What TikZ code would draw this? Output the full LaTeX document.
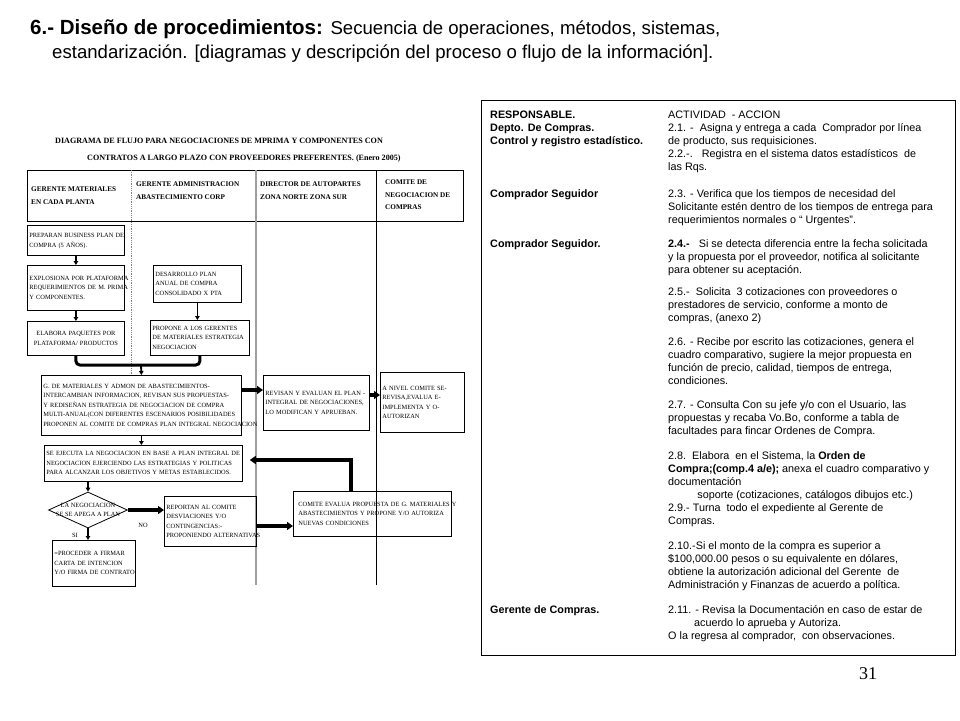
\documentclass[tikz,border=0pt]{standalone}
\usepackage{fontspec}
\setmainfont{Liberation Sans}
\newfontfamily\flowfont{Liberation Serif}
\usetikzlibrary{arrows.meta, shapes.geometric, positioning, calc}

% renglones sin corte dentro de las cajas
\newcommand{\renglones}[2][l]{\begin{tabular}{@{}#1@{}}#2\end{tabular}}

\begin{document}
\begin{tikzpicture}[x=1pt, y=-1pt,
  box/.style 2 args={rectangle, draw=black, line width=0.8pt, anchor=north west,
    inner xsep=2pt, inner ysep=1pt, text width=#1, minimum height=#2, align=left,
    font=\flowfont\fontsize{6.4}{9.5}\selectfont},
  head/.style={anchor=north west, inner sep=0pt, align=left,
    font=\flowfont\bfseries\fontsize{7.2}{12.5}\selectfont},
  lbl/.style={inner sep=0pt, font=\flowfont\fontsize{6.4}{9}\selectfont},
  arr/.style={-{Triangle[length=4pt, width=4.5pt]}, line width=1.8pt},
  bigarr/.style={-{Triangle[length=6pt, width=8pt]}, line width=3.2pt},
  txt/.style={anchor=north west, inner sep=0pt, align=left,
    font=\fontsize{10.8}{13}\selectfont},
  resp/.style={txt, font=\bfseries\fontsize{10.8}{13}\selectfont}
]
\useasboundingbox (0,0) rectangle (960,720);

% titulo
\node[anchor=base west, inner sep=0pt] (tit1) at (30,34)
  {\fontsize{20.5}{24}\selectfont\bfseries 6.- Diseño de procedimientos: \fontsize{18.6}{24}\mdseries Secuencia de operaciones, métodos, sistemas,};
\node[anchor=base west, inner sep=0pt, font=\fontsize{18.6}{24}\selectfont] (tit2) at (52,58)
  {estandarización. [diagramas y descripción del proceso o flujo de la información].};

% diagrama de flujo
\node[anchor=base west, inner sep=0pt, font=\flowfont\bfseries\fontsize{8.1}{10}\selectfont] (ftit1) at (55,143)
  {DIAGRAMA DE FLUJO PARA NEGOCIACIONES DE MPRIMA Y COMPONENTES CON};
\node[anchor=base west, inner sep=0pt, font=\flowfont\bfseries\fontsize{8.1}{10}\selectfont] (ftit2) at (87,160)
  {CONTRATOS A LARGO PLAZO CON PROVEEDORES PREFERENTES. (Enero 2005)};

\draw[line width=0.9pt] (27,170) rectangle (463,221);
\draw[gray, densely dotted, line width=0.8pt] (131,170) -- (131,375);
\draw[gray!75, line width=1.6pt] (256,170) -- (256,585);
\draw[line width=0.6pt] (376,170) -- (376,585);

\node[head] (col1) at (31,187) {GERENTE MATERIALES\\EN CADA PLANTA};
\node[head] (col2) at (136,182) {GERENTE ADMINISTRACION\\ABASTECIMIENTO CORP};
\node[head] (col3) at (260,182) {DIRECTOR DE AUTOPARTES\\ZONA NORTE ZONA SUR};
\node[head] (col4) at (385,180) {COMITE DE\\NEGOCIACION DE\\COMPRAS};

\node[box={93pt}{30pt}] (plan) at (27,225) {\renglones{PREPARAN BUSINESS PLAN DE\\COMPRA (5 AÑOS).}};
\node[box={93pt}{45pt}] (expl) at (27,265) {\renglones{EXPLOSIONA POR PLATAFORMA\\REQUERIMIENTOS DE M. PRIMA\\Y COMPONENTES.}};
\node[box={93pt}{34pt}, align=center] (paq) at (27,321) {\renglones[c]{ELABORA PAQUETES POR\\PLATAFORMA/ PRODUCTOS}};
\node[box={84pt}{37pt}] (desa) at (153,265) {\renglones{DESARROLLO PLAN\\ANUAL DE COMPRA\\CONSOLIDADO X PTA}};
\node[box={95pt}{35pt}] (prop) at (150,320) {\renglones{PROPONE A LOS GERENTES\\DE MATERIALES ESTRATEGIA\\NEGOCIACION}};
\node[box={196pt}{60pt}] (gmat) at (41,375) {\renglones{G. DE MATERIALES Y ADMON DE ABASTECIMIENTOS-\\INTERCAMBIAN INFORMACION, REVISAN SUS PROPUESTAS-\\Y REDISEÑAN ESTRATEGIA DE NEGOCIACION DE COMPRA\\MULTI-ANUAL(CON DIFERENTES ESCENARIOS POSIBILIDADES\\PROPONEN AL COMITE DE COMPRAS PLAN INTEGRAL NEGOCIACION}};
\node[box={102pt}{55pt}] (rev) at (263,375) {\renglones{REVISAN Y EVALUAN EL PLAN -\\INTEGRAL DE NEGOCIACIONES,\\LO MODIFICAN Y APRUEBAN.}};
\node[box={80pt}{60pt}] (comi) at (380,372) {\renglones{A NIVEL COMITE SE-\\REVISA,EVALUA E-\\IMPLEMENTA Y O-\\AUTORIZAN}};
\node[box={194pt}{36pt}] (ejec) at (44,445) {\renglones{SE EJECUTA LA NEGOCIACION EN BASE A PLAN INTEGRAL DE\\NEGOCIACION EJERCIENDO LAS ESTRATEGIAS Y POLITICAS\\PARA ALCANZAR LOS OBJETIVOS Y METAS ESTABLECIDOS.}};
\node[diamond, draw, line width=0.8pt, inner sep=0pt, minimum width=79pt, minimum height=36pt,
  label={[lbl, align=center]center:LA NEGOCIACION\\SE SE APEGA A PLAN}] (dec) at (88,510) {};
\node[box={88pt}{50pt}] (repo) at (164,496) {\renglones{REPORTAN AL COMITE\\DESVIACIONES Y/O\\CONTINGENCIAS:-\\PROPONIENDO ALTERNATIVAS}};
\node[box={79pt}{46pt}] (firm) at (52,540) {\renglones{=PROCEDER A FIRMAR\\CARTA DE INTENCION\\Y/O FIRMA DE CONTRATO}};
\node[box={148pt}{45pt}, inner xsep=5pt] (ceval) at (293,491) {\renglones{COMITE EVALUA PROPUESTA DE G. MATERIALES Y\\ABASTECIMIENTOS Y PROPONE Y/O AUTORIZA\\NUEVAS CONDICIONES}};
\node[lbl] (no) at (143,525) {NO};
\node[lbl] (si) at (75,535) {SI};

\draw[arr] (plan) -- (expl);
\draw[arr] (expl) -- (paq);
\draw[arr] (desa.south) -- (desa.south |- prop.north);
\coordinate (junta) at (141,365);
\draw[line width=3pt, rounded corners=4pt] (paq.south) |- (junta) -| (prop.south);
\draw[arr] (junta) -- (gmat.north);
\draw[bigarr] (gmat.east |- 0,390) -- (rev.west |- 0,390);
\draw[bigarr] (rev.east |- 0,395) -- (comi.west |- 0,395);
\draw[arr] (gmat.south) -- (gmat.south |- ejec.north);
\draw[arr] (dec.north |- ejec.south) -- (dec.north);
\draw[bigarr] (dec.east) -- (dec.east -| repo.west);
\draw[arr] (dec.south) -- (dec.south |- firm.north);
\draw[bigarr] (repo.east |- 0,526) -- (ceval.west |- 0,526);
\draw[bigarr, shorten >=7pt] (ceval.north -| 351,0) |- (ejec.east |- 0,460);

% panel de actividades
\draw[line width=1pt] (481,100) rectangle (955,655);
\node[resp] (resp1) at (490,111) {RESPONSABLE.\\Depto. De Compras.\\Control y registro estadístico.};
\node[txt] (act1) at (668,111) {ACTIVIDAD\ \ - ACCION\\2.1. -\ \ Asigna y entrega a cada\ \ Comprador por línea\\de producto, sus requisiciones.\\2.2.-.\ \ \ Registra en el sistema datos estadísticos\ \ de\\las Rqs.};
\node[resp] (resp2) at (490,189) {Comprador Seguidor};
\node[txt] (act3) at (668,189) {2.3. - Verifica que los tiempos de necesidad del\\Solicitante estén dentro de los tiempos de entrega para\\requerimientos normales o “ Urgentes”.};
\node[resp] (resp3) at (490,239) {Comprador Seguidor.};
\node[txt] (act4) at (668,239) {\textbf{2.4.-}\ \ \ Si se detecta diferencia entre la fecha solicitada\\y la propuesta por el proveedor, notifica al solicitante\\para obtener su aceptación.};
\node[txt] (act5) at (668,287) {2.5.-\ \ Solicita\ \ 3 cotizaciones con proveedores o\\prestadores de servicio, conforme a monto de\\compras, (anexo 2)};
\node[txt] (act6) at (668,337) {2.6. - Recibe por escrito las cotizaciones, genera el\\cuadro comparativo, sugiere la mejor propuesta en\\función de precio, calidad, tiempos de entrega,\\condiciones.};
\node[txt] (act7) at (668,400) {2.7. - Consulta Con su jefe y/o con el Usuario, las\\propuestas y recaba Vo.Bo, conforme a tabla de\\facultades para fincar Ordenes de Compra.};
\node[txt] (act8) at (668,451) {2.8.\ \ Elabora\ \ en el Sistema, la \textbf{Orden de}\\\textbf{Compra;(comp.4 a/e);} anexa el cuadro comparativo y\\documentación\\\hspace*{2.7em}soporte (cotizaciones, catálogos dibujos etc.)\\2.9.- Turna\ \ todo el expediente al Gerente de\\Compras.};
\node[txt] (act10) at (668,541) {2.10.-Si el monto de la compra es superior a\\\$100,000.00 pesos o su equivalente en dólares,\\obtiene la autorización adicional del Gerente\ \ de\\Administración y Finanzas de acuerdo a política.};
\node[resp] (resp4) at (490,605) {Gerente de Compras.};
\node[txt] (act11) at (668,605) {2.11. - Revisa la Documentación en caso de estar de\\\hspace*{2.4em}acuerdo lo aprueba y Autoriza.\\O la regresa al comprador,\ \ con observaciones.};

\node[font=\flowfont\fontsize{18}{18}\selectfont] (pag) at (868,674) {31};
\end{tikzpicture}
\end{document}
